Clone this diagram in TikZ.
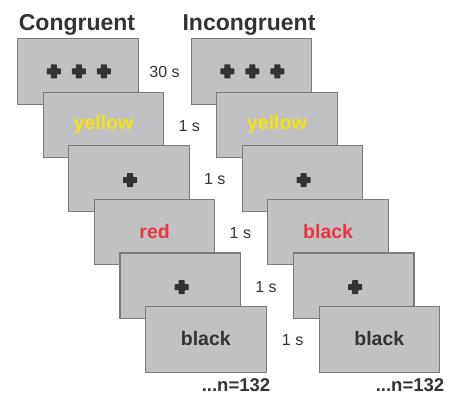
\documentclass[tikz,border=0pt]{standalone}
\usepackage{fontspec}
\setmainfont{Liberation Sans}
\definecolor{boxfill}{HTML}{C0C1C3}
\definecolor{boxline}{HTML}{7A7B7D}
\definecolor{ink}{HTML}{333333}
\definecolor{wyellow}{HTML}{F5E612}
\definecolor{wred}{HTML}{EE3440}
\tikzset{
  screen/.style={draw=boxline, fill=boxfill, line width=1.1pt, minimum width=120.5pt, minimum height=65.5pt, anchor=north west, inner sep=0pt},
  title/.style={font=\fontsize{23}{25}\selectfont\bfseries, text=ink, anchor=base, inner sep=0pt},
  word/.style={font=\fontsize{19.5}{22}\selectfont\bfseries, anchor=base, inner sep=0pt},
  dur/.style={font=\fontsize{16}{18}\selectfont, text=ink, anchor=base, inner sep=0pt},
  count/.style={font=\fontsize{18.5}{20}\selectfont\bfseries, text=ink, anchor=base, inner sep=0pt},
  plusmark/.pic={\fill[ink, rounded corners=0.6pt] (-7,-3) -- (-3,-3) -- (-3,-7) -- (3,-7) -- (3,-3) -- (7,-3) -- (7,3) -- (3,3) -- (3,7) -- (-3,7) -- (-3,3) -- (-7,3) -- cycle;}
}
\begin{document}
\begin{tikzpicture}[x=1pt,y=-1pt]
\useasboundingbox (0,0) rectangle (449,394);
\node[title] (t1) at (77,30.5) {Congruent};
\node[title] (t2) at (249,30.5) {Incongruent};
% left column
\node[screen] (L1) at (17,38) {};
\node[screen] (L2) at (42.6,91.6) {};
\node[screen] (L3) at (68.2,145.2) {};
\node[screen] (L4) at (93.8,198.8) {};
\node[screen] (L5) at (119.4,252.4) {};
\node[screen] (L6) at (145,306) {};
% right column
\node[screen] (R1) at (190.5,38) {};
\node[screen] (R2) at (216.1,91.6) {};
\node[screen] (R3) at (241.7,145.2) {};
\node[screen] (R4) at (267.3,198.8) {};
\node[screen] (R5) at (292.9,252.4) {};
\node[screen] (R6) at (318.5,306) {};
% contents left
\path (L1.center) ++(-24,0) pic {plusmark};
\path (L1.center) ++(1,0) pic {plusmark};
\path (L1.center) ++(26,0) pic {plusmark};
\node[word, text=wyellow] (lw2) at ([yshift=-5pt]L2.center) {yellow};
\path (L3.center) ++(1,1.5) pic {plusmark};
\node[word, text=wred] (lw4) at ([yshift=-6pt]L4.center) {red};
\path (L5.center) ++(1.5,1.5) pic {plusmark};
\node[word, text=ink] (lw6) at ([yshift=-6pt]L6.center) {black};
% contents right
\path (R1.center) ++(-24,0) pic {plusmark};
\path (R1.center) ++(1,0) pic {plusmark};
\path (R1.center) ++(26,0) pic {plusmark};
\node[word, text=wyellow] (rw2) at ([yshift=-5pt]R2.center) {yellow};
\path (R3.center) ++(1,1.5) pic {plusmark};
\node[word, text=wred] (rw4) at ([yshift=-6pt]R4.center) {black};
\path (R5.center) ++(1.5,1.5) pic {plusmark};
\node[word, text=ink] (rw6) at ([yshift=-6pt]R6.center) {black};
% durations
\node[dur] (d1) at ([xshift=26pt,yshift=-6.3pt]L1.east) {30 s};
\node[dur] (d2) at ([xshift=25pt,yshift=-6.3pt]L2.east) {1 s};
\node[dur] (d3) at ([xshift=25pt,yshift=-6.3pt]L3.east) {1 s};
\node[dur] (d4) at ([xshift=25pt,yshift=-6.3pt]L4.east) {1 s};
\node[dur] (d5) at ([xshift=25pt,yshift=-6.3pt]L5.east) {1 s};
\node[dur] (d6) at ([xshift=26pt,yshift=-6.3pt]L6.east) {1 s};
% counts
\node[count] (n1) at (236,391.5) {...n=132};
\node[count] (n2) at (410,391.5) {...n=132};
\end{tikzpicture}
\end{document}
